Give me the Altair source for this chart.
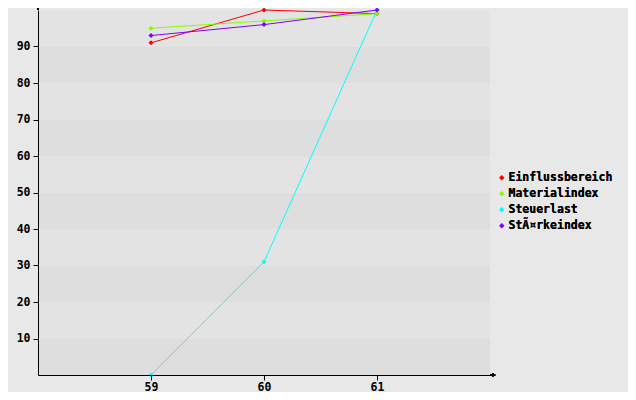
import altair as alt
import pandas as pd

categories = [59, 60, 61]
series_names = ["Einflussbereich", "Materialindex", "Steuerlast", "StÃ¤rkeindex"]
einfluss = [91, 100, 99]
material = [95, 97, 99]
steuer = [0, 31, 100]
staerke = [93, 96, 100]
colors = ["#ff0000", "#80ff00", "#00ffff", "#8000ff"]
y_ticks = [10, 20, 30, 40, 50, 60, 70, 80, 90]

rows = []
for name, vals in zip(series_names, [einfluss, material, steuer, staerke]):
    for c, v in zip(categories, vals):
        rows.append({"cat": c, "value": v, "series": name})
df = pd.DataFrame(rows)

bands = pd.DataFrame({
    "y0": list(range(0, 100, 10)),
    "y1": list(range(10, 110, 10)),
    "shade": ["d" if (i % 2 == 0) else "l" for i in range(10)],
})

W, H = 452, 365
FONT = "DejaVu Sans Mono"
FS = 11.5

xs = alt.Scale(domain=[58, 62], nice=False, zero=False)
ys = alt.Scale(domain=[0, 100], nice=False)

y_axis = alt.Axis(values=y_ticks, title=None, grid=False, zindex=1,
                  domainColor="black", tickColor="black", tickSize=5,
                  labelFont=FONT, labelFontWeight="bold", labelFontSize=FS,
                  labelColor="black", labelPadding=3)
x_axis = alt.Axis(values=categories, title=None, grid=False, zindex=1,
                  domainColor="black", tickColor="black", tickSize=5,
                  labelFont=FONT, labelFontWeight="bold", labelFontSize=FS,
                  labelColor="black", labelBaseline="alphabetic", labelPadding=10, format="d")

band_layer = alt.Chart(bands).mark_rect().encode(
    x=alt.value(0), x2=alt.value(W),
    y=alt.Y("y0:Q", scale=ys, axis=y_axis),
    y2="y1:Q",
    color=alt.Color("shade:N", scale=alt.Scale(domain=["d", "l"], range=["#dedede", "#e3e3e3"]), legend=None),
)

base = alt.Chart(df).encode(
    x=alt.X("cat:Q", scale=xs, axis=x_axis),
    y=alt.Y("value:Q", scale=ys, axis=y_axis),
    color=alt.Color("series:N", scale=alt.Scale(domain=series_names, range=colors),
                    legend=alt.Legend(title=None, orient="none", legendX=458, legendY=162,
                                      symbolType="diamond", symbolSize=30, symbolStrokeWidth=0,
                                      labelFont=FONT, labelFontWeight="bold", labelFontSize=FS,
                                      labelColor="black", rowPadding=3, symbolOffset=0,
                                      labelOffset=1)),
)

lines = base.mark_line(strokeWidth=1)
points = base.mark_point(shape="diamond", filled=True, size=25, opacity=1)

yext = alt.Chart(bands).mark_rule(color="black", strokeWidth=1).encode(
    x=alt.value(0), y=alt.value(-5), y2=alt.value(0))
xext = alt.Chart(bands).mark_rule(color="black", strokeWidth=1).encode(
    x=alt.value(W), x2=alt.value(W + 5), y=alt.value(H))
yarrow = alt.Chart(bands).mark_point(shape="triangle-up", filled=True, color="black", size=14, opacity=1).encode(
    x=alt.value(0), y=alt.value(-4))
xarrow = alt.Chart(bands).mark_point(shape="triangle-right", filled=True, color="black", size=14, opacity=1).encode(
    x=alt.value(W + 4), y=alt.value(H))

chart = alt.layer(band_layer, lines, points, yext, xext, yarrow, xarrow).resolve_scale(
    color="independent"
).properties(
    width=W, height=H,
    autosize=alt.AutoSizeParams(type="none"),
    padding={"left": 30, "top": 2, "right": 138, "bottom": 17},
    background="#e8e8e8",
).configure_view(stroke=None)

chart.save("out.html", embed_options={"renderer": "svg", "actions": False})
